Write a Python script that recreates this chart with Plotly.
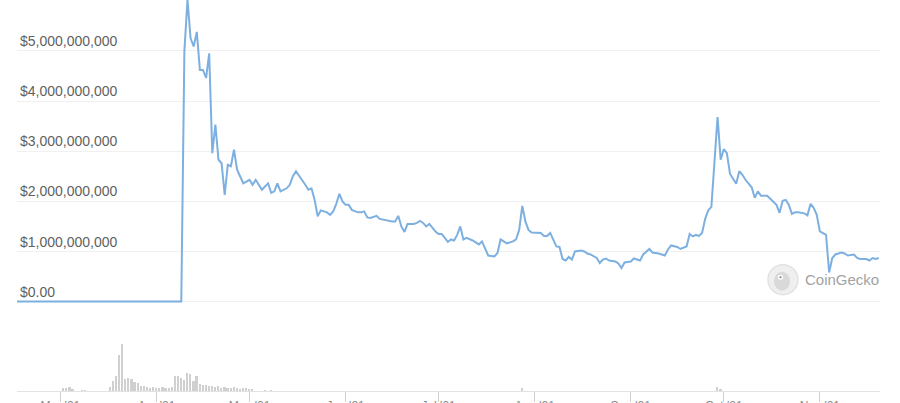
import plotly.graph_objects as go
import pandas as pd

# ---------------- data ----------------
base_date = pd.Timestamp("2021-02-15")

day_offset = [0, 53, 54, 55, 56, 57, 58, 59, 60, 61, 62, 63, 64, 65, 66, 67, 68, 69, 70, 71,
              73, 74, 75, 76, 77, 78, 79, 81, 82, 83, 84, 85, 87, 88, 89, 90, 92, 93, 94, 95,
              96, 97, 98, 100, 101, 102, 103, 104, 105, 106, 107, 108, 110, 111, 112, 113, 114,
              116, 117, 119, 120, 121, 122, 123, 124, 125, 126, 128, 129, 130, 131, 132, 133,
              135, 136, 137, 138, 139, 140, 141, 142, 143, 144, 145, 147, 148, 149, 150, 151,
              152, 154, 155, 156, 157, 158, 160, 161, 162, 163, 164, 165, 166, 168, 169, 170,
              171, 172, 173, 174, 175, 176, 177, 178, 179, 180, 182, 183, 184, 185, 187, 188,
              189, 190, 191, 193, 194, 195, 196, 198, 199, 200, 201, 202, 204, 205, 207, 209,
              210, 211, 213, 214, 216, 217, 218, 219, 220, 221, 222, 223, 224, 226, 227, 228,
              229, 230, 231, 232, 233, 234, 235, 236, 237, 238, 239, 240, 242, 243, 244, 245,
              246, 247, 248, 249, 250, 251, 252, 254, 255, 256, 257, 258, 259, 260, 261, 262,
              263, 264, 266, 267, 268, 270, 271, 272, 274, 275, 276, 277, 278]

market_cap_bn = [0, 0, 5.00, 6.02, 5.25, 5.09, 5.38, 4.62, 4.62, 4.46, 4.95, 2.96, 3.53, 2.83,
                 2.76, 2.13, 2.73, 2.70, 3.03, 2.63,
                 2.36, 2.40, 2.43, 2.33, 2.43, 2.33, 2.23, 2.36, 2.17, 2.20, 2.36, 2.20, 2.26,
                 2.33, 2.50, 2.60, 2.43, 2.33, 2.23, 2.26,
                 2.03, 1.70, 1.82, 1.78, 1.73, 1.80, 1.95, 2.15, 2.00, 1.93, 1.93, 1.83, 1.78,
                 1.78, 1.80, 1.68, 1.67,
                 1.71, 1.65, 1.62, 1.62, 1.60, 1.60, 1.71, 1.50, 1.39, 1.55, 1.55, 1.57, 1.61,
                 1.57, 1.50, 1.55,
                 1.40, 1.35, 1.35, 1.27, 1.19, 1.24, 1.22, 1.33, 1.50, 1.24, 1.27, 1.22, 1.18,
                 1.14, 1.20, 1.04,
                 0.92, 0.90, 0.97, 1.24, 1.20, 1.16, 1.20, 1.24, 1.43, 1.91, 1.60, 1.43, 1.38,
                 1.37, 1.37, 1.31,
                 1.31, 1.37, 1.24, 1.10, 1.09, 0.85, 0.82, 0.89, 0.84, 1.00, 1.02, 1.00, 0.96,
                 0.94, 0.87, 0.77,
                 0.84, 0.86, 0.82, 0.80, 0.76, 0.67, 0.78, 0.80, 0.86, 0.84, 0.82, 0.94, 1.05,
                 0.98, 0.96, 0.92,
                 1.04, 1.12, 1.09, 1.05, 1.10, 1.35, 1.30, 1.33, 1.31, 1.37, 1.65, 1.82, 1.89,
                 3.68, 2.83, 3.04,
                 2.96, 2.55, 2.46, 2.35, 2.60, 2.53, 2.43, 2.35, 2.28, 2.07, 2.20, 2.11, 2.11,
                 2.05, 1.98, 1.93,
                 1.77, 2.01, 2.03, 1.93, 1.75, 1.78, 1.78, 1.76, 1.72, 1.95, 1.87, 1.73, 1.40,
                 1.37, 1.33, 0.58,
                 0.87, 0.94, 0.98, 0.96, 0.92, 0.94, 0.87, 0.85, 0.85, 0.82, 0.87, 0.85, 0.87]

volume_day = [15, 16, 17, 18, 21, 22, 30, 31, 32, 33, 34, 35, 36, 37, 38, 39, 40, 41, 42, 43,
              44, 45, 46, 47, 48, 49, 50, 51, 52, 53, 54, 55, 56, 57, 58, 59, 60, 61, 62, 63,
              64, 65, 66, 67, 68, 69, 70, 71, 72, 73, 74, 75, 76, 80, 82, 163, 226, 227]
volume_musd = [60, 60, 80, 40, 20, 20, 80, 200, 300, 720, 940, 240, 260, 240, 180, 160, 100,
               100, 80, 60, 80, 60, 60, 80, 60, 60, 80, 300, 300, 260, 220, 360, 340, 200, 300,
               140, 120, 120, 100, 100, 80, 100, 60, 80, 60, 60, 80, 60, 40, 60, 60, 40, 40,
               20, 20, 60, 80, 40]

y_tick_values_bn = [0, 1, 2, 3, 4, 5, 6]
y_tick_labels = ["$0.00", "$1,000,000,000", "$2,000,000,000", "$3,000,000,000",
                 "$4,000,000,000", "$5,000,000,000", "$6,000,000,000"]

# ---------------- figure ----------------
dates = [base_date + pd.Timedelta(days=d) for d in day_offset]
vol_dates = [base_date + pd.Timedelta(days=d) for d in volume_day]

W, H = 900, 403
ml, mr, mt, mb = 17, 20, 0, 11.5
plot_h = H - mt - mb

LINE = "#7db0e0"
FONT = "Liberation Sans, Arial, sans-serif"

fig = go.Figure()
fig.add_trace(go.Scatter(
    x=dates, y=[v * 1e9 for v in market_cap_bn], mode="lines",
    line=dict(color=LINE, width=2), xaxis="x", yaxis="y", showlegend=False,
    hoverinfo="skip"))
fig.add_trace(go.Bar(
    x=vol_dates, y=[v * 1e6 for v in volume_musd], marker_color="#d0d0d0",
    marker_line_width=0, width=0.55 * 86400000, xaxis="x", yaxis="y2",
    showlegend=False, hoverinfo="skip"))

px_per_bn = 50.2
main_bottom_px = 305  # figure pixel row of main pane bottom
y_min = -(main_bottom_px - 302) / px_per_bn * 1e9
y_max = 302 / px_per_bn * 1e9

fig.update_layout(
    width=W, height=H,
    margin=dict(l=ml, r=mr, t=mt, b=mb, pad=0),
    paper_bgcolor="white", plot_bgcolor="white",
    font=dict(family=FONT),
    bargap=0,
    xaxis=dict(
        type="date", anchor="y2", automargin=False,
        range=[base_date, base_date + pd.Timedelta(hours=278.4 * 24)],
        dtick="M1", tick0="2021-03-01", tickformat="%b '%y",
        showgrid=False, showline=True, linecolor="#e3e3e3", linewidth=1,
        ticks="outside", ticklen=10, tickcolor="#d0d0d0", tickwidth=1,
        tickfont=dict(size=12, color="#8a8a8a"), ticklabelstandoff=-6,
        zeroline=False,
    ),
    yaxis=dict(
        domain=[(plot_h - (main_bottom_px - mt)) / plot_h, 1], automargin=False,
        range=[y_min, y_max], anchor="x",
        tickvals=[v * 1e9 for v in y_tick_values_bn], ticktext=y_tick_labels,
        ticklabelposition="inside top", ticklabeloverflow="allow",
        tickfont=dict(size=14, color="#5f5f5f"),
        showgrid=True, gridcolor="#f0f0f0", gridwidth=1,
        zeroline=False, showline=False, ticks="",
    ),
    yaxis2=dict(
        domain=[0, (391.5 - 335) / plot_h], automargin=False,
        range=[0, 56.5 * 20e6], anchor="x",
        showgrid=False, zeroline=False, showline=False,
        showticklabels=False, ticks="",
    ),
)

# CoinGecko watermark
cx = (783 - ml) / (W - ml - mr)
cy = (H - mb - 280) / plot_h
fig.add_shape(type="circle", xref="paper", yref="paper", xsizemode="pixel",
              ysizemode="pixel", xanchor=cx, yanchor=cy, x0=-15, x1=15, y0=-15, y1=15,
              fillcolor="#efefef", line=dict(color="#e2e2e2", width=1.5))
fig.add_shape(type="circle", xref="paper", yref="paper", xsizemode="pixel",
              ysizemode="pixel", xanchor=cx, yanchor=cy, x0=-9, x1=7, y0=-11, y1=8,
              fillcolor="#d9d9d9", line=dict(width=0))
fig.add_shape(type="circle", xref="paper", yref="paper", xsizemode="pixel",
              ysizemode="pixel", xanchor=cx, yanchor=cy, x0=-5, x1=0, y0=0, y1=5,
              fillcolor="#ffffff", line=dict(width=0))
fig.add_shape(type="circle", xref="paper", yref="paper", xsizemode="pixel",
              ysizemode="pixel", xanchor=cx, yanchor=cy, x0=-3.5, x1=-1.5, y0=1.5, y1=3.5,
              fillcolor="#777777", line=dict(width=0))
fig.add_annotation(text="CoinGecko", xref="paper", yref="paper",
                   x=(803 - ml) / (W - ml - mr), y=cy, xanchor="left", yanchor="middle",
                   showarrow=False, font=dict(size=15, color="#a3a3a3", family=FONT))

fig.write_html("out.html", config={"displayModeBar": False},
               post_script="document.body.style.margin='0';")
